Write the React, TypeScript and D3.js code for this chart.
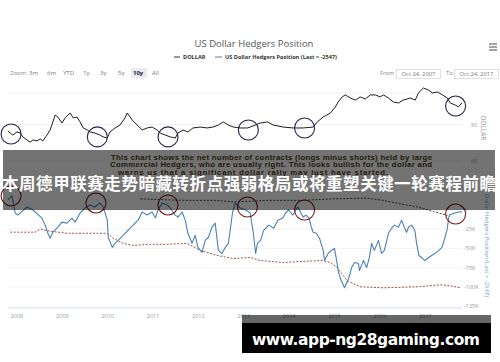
import React from "react";
import * as d3 from "d3";

// ---- data (decimal years) ----
const dollarDates = [2007.80,2007.85,2007.91,2008.0,2008.07,2008.13,2008.22,2008.29,2008.35,2008.44,2008.51,2008.57,2008.66,2008.73,2008.79,2008.84,2008.90,2008.99,2009.06,2009.17,2009.24,2009.32,2009.39,2009.46,2009.55,2009.61,2009.72,2009.83,2009.90,2009.99,2010.05,2010.16,2010.27,2010.38,2010.43,2010.54,2010.65,2010.76,2010.87,2010.98,2011.09,2011.16,2011.27,2011.38,2011.49,2011.55,2011.66,2011.77,2011.88,2012.04,2012.19,2012.32,2012.44,2012.55,2012.66,2012.77,2012.92,2013.08,2013.14,2013.36,2013.52,2013.65,2013.87,2014.09,2014.31,2014.53,2014.62,2014.75,2014.91,2015.02,2015.08,2015.17,2015.24,2015.35,2015.46,2015.57,2015.68,2015.79,2015.90,2016.01,2016.08,2016.19,2016.30,2016.41,2016.52,2016.67,2016.78,2016.85,2016.96,2017.07,2017.16,2017.27,2017.38,2017.49,2017.55,2017.66,2017.73,2017.81];
const dollarValues = [76.4,75.3,74.2,75.9,75.3,73.2,71.5,70.4,71.5,71.0,72.1,71.0,74.2,77.0,81.4,85.2,84.1,80.8,83.6,86.3,83.6,84.1,81.4,78.1,77.0,75.9,75.3,74.2,73.2,72.6,75.9,78.1,79.7,83.6,86.3,82.5,79.7,77.0,78.1,78.6,77.0,75.3,74.2,73.2,72.6,75.3,77.0,75.9,78.1,78.6,78.1,78.6,79.7,81.4,79.7,78.6,78.1,78.1,78.6,80.8,81.4,79.7,78.6,78.1,78.1,78.6,81.4,84.1,86.3,89.6,92.3,95.1,96.2,94.5,93.4,95.1,94.0,96.2,96.2,95.1,96.2,94.5,92.3,91.8,93.4,94.5,93.4,97.3,100.0,98.9,97.3,97.8,96.2,94.5,91.8,90.7,89.6,91.8];

const hedgerDates = [2007.80,2007.89,2007.96,2008.02,2008.22,2008.35,2008.55,2008.62,2008.68,2008.73,2008.79,2008.90,2008.99,2009.10,2009.21,2009.28,2009.39,2009.50,2009.61,2009.72,2009.83,2009.90,2009.99,2010.01,2010.10,2010.16,2010.23,2010.34,2010.45,2010.56,2010.67,2010.76,2010.87,2010.98,2011.05,2011.11,2011.20,2011.31,2011.38,2011.49,2011.55,2011.64,2011.71,2011.77,2011.86,2011.93,2011.99,2012.08,2012.15,2012.22,2012.30,2012.37,2012.44,2012.52,2012.59,2012.66,2012.75,2012.81,2012.92,2013.04,2013.14,2013.21,2013.26,2013.30,2013.37,2013.44,2013.55,2013.66,2013.75,2013.86,2013.92,2013.99,2014.08,2014.19,2014.26,2014.31,2014.37,2014.44,2014.49,2014.53,2014.60,2014.67,2014.75,2014.78,2014.86,2014.93,2015.00,2015.04,2015.09,2015.15,2015.22,2015.31,2015.38,2015.44,2015.53,2015.55,2015.64,2015.71,2015.77,2015.82,2015.88,2015.97,2016.04,2016.10,2016.19,2016.26,2016.32,2016.41,2016.48,2016.54,2016.59,2016.63,2016.70,2016.77,2016.81,2016.86,2016.92,2016.99,2017.08,2017.14,2017.21,2017.30,2017.37,2017.43,2017.48,2017.52,2017.54,2017.65,2017.74,2017.81];
const hedgerValues = [13.2,18.4,-3.9,-6.6,3.9,0,-10.5,-19.7,-30.3,-36.8,-28.9,-22.4,-15.8,-17.1,-10.5,-15.8,-3.9,2.6,6.6,3.9,9.2,3.9,-13.2,-35.5,-48.7,-43.4,-39.5,-32.9,-26.3,-19.7,-13.2,-2.6,-6.6,-2.6,-10.5,0,9.2,6.6,2.6,-6.6,-9.2,-2.6,-13.2,-30.3,-43.4,-32.9,-48.7,-55.3,-39.5,-35.5,-22.4,-17.1,-52.6,-56.6,-48.7,-43.4,-3.9,9.2,2.6,0,-3.9,-30.3,-56.6,-43.4,-39.5,-26.3,-19.7,-23.7,-13.2,-10.5,-3.9,0,-6.6,3.9,-3.9,-9.2,-6.6,-10.5,-22.4,-28.9,-30.3,-36.8,-52.6,-65.8,-56.6,-52.6,-50.0,-63.2,-81.6,-92.1,-101.3,-89.5,-75.0,-68.4,-69.7,-78.9,-65.8,-75.0,-61.8,-43.4,-52.6,-39.5,-56.6,-52.6,-30.3,-23.7,-19.7,-22.4,-13.2,-22.4,-28.9,-22.4,-19.7,-26.3,-43.4,-59.2,-61.8,-65.8,-61.8,-59.2,-56.6,-52.6,-48.7,-36.8,-26.3,-9.2,-6.6,-3.9,-2.6,-2.5];

const lowBandDates = [2007.85,2008.40,2008.51,2008.73,2009.10,2009.46,2009.99,2010.12,2010.34,2010.56,2010.94,2011.31,2011.75,2012.04,2012.41,2012.77,2013.14,2013.36,2013.87,2014.24,2014.73,2014.91,2015.06,2015.28,2015.57,2016.08,2016.83,2017.34,2017.55,2017.77];
const lowBandValues = [-28.9,-28.9,-25.0,-27.6,-30.3,-30.3,-30.3,-36.8,-43.4,-46.1,-44.7,-44.7,-43.4,-52.6,-59.2,-63.2,-61.8,-65.8,-68.4,-67.1,-65.8,-68.4,-75.0,-92.1,-100,-101.3,-100,-97.4,-98.7,-101.3];

const highBandDates = [2010.72,2011.16,2011.75,2012.41,2012.77,2013.52,2014.24,2014.97,2015.71,2016.08,2016.45,2016.83,2017.18,2017.49];
const highBandValues = [14.5,13.5,12.5,12.5,10.5,12.5,12.5,14.5,15.5,12.5,8.0,4.0,-2.0,-7.0];

const topCircleDates = [2007.87,2009.77,2011.33,2013.10,2014.34,2017.67];
const topCircleValues = [74.8,73.2,73.2,77.0,78.1,90.1];
const bottomCircleDates = [2007.87,2009.74,2011.33,2013.08,2014.34,2017.67];
const bottomCircleValues = [18.4,9.2,6.6,3.9,0,-5.3];

const yearTicks = [2008,2009,2010,2011,2012,2013,2014,2015,2016,2017];
const hedgerTicks = [0,-25,-50,-75,-100,-125];
const dollarTicks = [60,80];
const rangeButtons = ["3m","6m","YTD","1y","3y","5y","10y","All"];

const toDate = (t: number) => {
  const y = Math.floor(t);
  const s = new Date(y, 0, 1).getTime();
  const e = new Date(y + 1, 0, 1).getTime();
  return new Date(s + (t - y) * (e - s));
};

export default function App() {
  const x = d3.scaleTime().domain([new Date(2007, 9, 24), new Date(2017, 9, 24)]).range([8.4, 462]);
  const yTop = d3.scaleLinear().domain([60, 80]).range([161, 124.5]);
  const yBot = d3.scaleLinear().domain([-125, 0]).range([306, 210]);

  const lineTop = d3.line<number>().x((_, i) => x(toDate(dollarDates[i]))).y((d) => yTop(d));
  const lineH = d3.line<number>().x((_, i) => x(toDate(hedgerDates[i]))).y((d) => yBot(d));
  const lineLow = d3.line<number>().x((_, i) => x(toDate(lowBandDates[i]))).y((d) => yBot(d));
  const lineHigh = d3.line<number>().x((_, i) => x(toDate(highBandDates[i]))).y((d) => yBot(d));

  const uiFont = "'Open Sans', 'Noto Sans', sans-serif";
  const btnX = [29, 47, 63, 83, 100, 118, 133, 152];

  return (
    <svg width={500} height={362} style={{ position: "absolute", left: 0, top: 0, background: "#fff" }} fontFamily={uiFont}>
      <rect x={0} y={0} width={500} height={362} fill="#fff" />
      {/* title */}
      <text x={254} y={47} textAnchor="middle" fontSize={9.5} fill="#555">US Dollar Hedgers Position</text>
      {/* legend */}
      <line x1={174} x2={180} y1={57} y2={57} stroke="#333" strokeWidth={1} />
      <text x={183} y={59} fontSize={5.6} fontWeight="bold" fill="#333">DOLLAR</text>
      <line x1={215} x2={222} y1={57} y2={57} stroke="#4f86b8" strokeWidth={1} />
      <text x={225} y={59} fontSize={5.6} fontWeight="bold" fill="#333" textLength={112}>US Dollar Hedgers Position (Last = -2547)</text>
      {/* menu icon */}
      {[44, 47, 50].map((yy) => (
        <line key={yy} x1={489} x2={497} y1={yy} y2={yy} stroke="#666" strokeWidth={1.2} />
      ))}
      {/* range selector */}
      <text x={10} y={75} fontSize={6} fill="#888">Zoom</text>
      <rect x={131} y={68} width={16} height={10} rx={1} fill="#e6ebf5" />
      {rangeButtons.map((b, i) => (
        <text key={b} x={btnX[i]} y={75} fontSize={6} fill={b === "10y" ? "#222" : "#777"} fontWeight={b === "10y" ? "bold" : "normal"}>{b}</text>
      ))}
      <text x={380} y={75} fontSize={5.8} fill="#888">From</text>
      <rect x={396.5} y={69.5} width={44} height={9} fill="#fff" stroke="#ccc" strokeWidth={0.6} />
      <text x={418.5} y={76} fontSize={5.8} fill="#777" textAnchor="middle">Oct 24, 2007</text>
      <text x={446} y={75} fontSize={5.8} fill="#888">To</text>
      <rect x={454.5} y={69.5} width={44} height={9} fill="#fff" stroke="#ccc" strokeWidth={0.6} />
      <text x={476.5} y={76} fontSize={5.8} fill="#777" textAnchor="middle">Oct 24, 2017</text>

      {/* top pane grid */}
      <line x1={8} x2={462} y1={93} y2={93} stroke="#eee" strokeWidth={0.8} />
      {dollarTicks.map((t) => (
        <g key={t}>
          <line x1={8} x2={462} y1={yTop(t)} y2={yTop(t)} stroke="#eeeeee" strokeWidth={0.8} />
          <text x={471} y={yTop(t) + 2} fontSize={5.5} fill="#999">{t}</text>
        </g>
      ))}
      <text transform="translate(481,128) rotate(90)" textAnchor="middle" fontSize={6.5} fill="#999">DOLLAR</text>

      {/* bottom pane grid */}
      {hedgerTicks.map((t) => (
        <g key={t}>
          <line x1={8} x2={462} y1={yBot(t)} y2={yBot(t)} stroke="#f0f0f0" strokeWidth={0.8} />
          <text x={464} y={yBot(t) + 2} fontSize={5.5} fill="#999">{t === 0 ? "0" : `${t}K`}</text>
        </g>
      ))}
      <text transform="translate(485,241) rotate(90)" textAnchor="middle" fontSize={6} fill="#7a9cc0" textLength={112}>US Dollar Hedgers Position (Last = -2547)</text>
      <line x1={8} x2={462} y1={308} y2={308} stroke="#ccd6eb" strokeWidth={0.8} />
      {yearTicks.map((yr) => (
        <text key={yr} x={x(new Date(yr, 0, 1))} y={318} textAnchor="middle" fontSize={5.5} fill="#999">{yr}</text>
      ))}

      {/* series */}
      <path d={lineTop(dollarValues) || ""} fill="none" stroke="#1e1e1e" strokeWidth={1} strokeLinejoin="round" />
      <path d={lineLow(lowBandValues) || ""} fill="none" stroke="#9c3c3c" strokeWidth={0.9} strokeDasharray="2,1.5" />
      <path d={lineHigh(highBandValues) || ""} fill="none" stroke="#333" strokeWidth={0.9} strokeDasharray="2,1.5" />
      <path d={lineH(hedgerValues) || ""} fill="none" stroke="#4a82b6" strokeWidth={1.1} strokeLinejoin="round" />

      {/* annotation circles */}
      {topCircleDates.map((t, i) => (
        <circle key={"tc" + i} cx={x(toDate(t))} cy={yTop(topCircleValues[i])} r={10} fill="none" stroke="#25244a" strokeWidth={1.1} />
      ))}
      {bottomCircleDates.map((t, i) => (
        <circle key={"bc" + i} cx={x(toDate(t))} cy={yBot(bottomCircleValues[i])} r={10} fill="none" stroke="#7a1818" strokeWidth={1.1} />
      ))}

      {/* overlay band */}
      <rect x={3} y={150} width={492} height={60} fill="#000" opacity={0.55} />
      <g fontFamily="'Liberation Sans', Arial, sans-serif" fontWeight="bold" fontSize={7.8} fill="#1f1a0c">
        <text x={111} y={159.5} textLength={321}>This chart shows the net number of contracts (longs minus shorts) held by large</text>
        <text x={110} y={167} textLength={322}>Commercial Hedgers, who are usually right. This looks bullish for the dollar and</text>
        <text x={118} y={174.5} textLength={270}>warns us that a significant dollar rally may just have started.</text>
      </g>
      <text x={249} y={189.5} textAnchor="middle" fontFamily="'Noto Sans CJK SC', sans-serif" fontWeight="bold" fontSize={16.5} fill="#fff" textLength={494}>本周德甲联赛走势暗藏转折点强弱格局或将重塑关键一轮赛程前瞻</text>

      {/* watermark */}
      <rect x={242} y={315} width={249} height={38} fill="#000" opacity={0.6} />
      <rect x={242} y={323} width={249} height={30} fill="#000" />
      <text x={252} y={344.5} fontFamily="'DejaVu Sans', sans-serif" fontWeight="bold" fontSize={15.5} fill="#fff" textLength={228}>www.app-ng28gaming.com</text>
    </svg>
  );
}
